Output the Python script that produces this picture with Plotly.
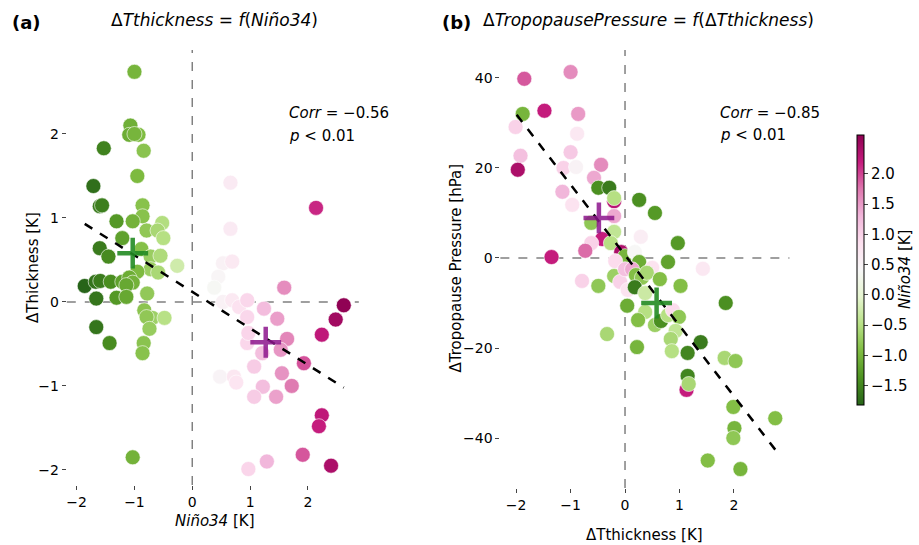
import plotly.graph_objects as go

# ---------------- data ----------------
# Panel (a): Niño34 [K] vs ΔThickness [K]
nino_a = [-1.0, -1.07, -1.09, -0.93, -1.0, -0.84, -1.53, -0.95, -1.71, -1.60, -1.56, -0.86, -0.86,
          -1.31, -1.03, -0.52, -0.79, -0.60, -0.50, -1.21, -1.60, -1.45, -0.88, -0.72, -0.55, -0.26,
          -0.72, -0.59, -0.95, -1.86, -1.67, -1.59, -1.41, -1.21, -1.09, -1.03, -1.14, -1.66, -1.31,
          -1.14, -0.78, -0.83, -0.69, -0.79, -0.48, -0.74, -1.66, -1.43, -0.84, -0.86, -1.03,
          0.66, 0.66, 0.53, 0.69, 0.45, 0.38, 0.53, 0.69, 0.81, 0.95, 2.14, 1.59, 2.62, 2.48, 2.24,
          1.64, 1.47, 1.24, 0.95, 0.95, 1.21, 1.53, 1.93, 1.07, 1.55, 1.72, 0.48, 0.72, 0.76, 1.22,
          1.07, 1.45, 2.24, 2.19, 1.91, 1.29, 0.97, 2.40, 0.97]
thick_a = [2.74, 2.10, 1.99, 1.99, 2.00, 1.80, 1.83, 1.50, 1.38, 1.14, 1.15, 1.15, 1.02,
           0.96, 0.96, 0.94, 0.85, 0.85, 0.76, 0.76, 0.64, 0.54, 0.63, 0.54, 0.55, 0.43,
           0.39, 0.35, 0.36, 0.19, 0.24, 0.25, 0.24, 0.24, 0.29, 0.23, 0.20, 0.04, 0.05,
           0.06, 0.10, -0.10, -0.19, -0.18, -0.19, -0.32, -0.30, -0.49, -0.49, -0.61, -1.85,
           1.42, 0.87, 0.46, 0.48, 0.30, 0.17, 0.00, 0.02, -0.06, 0.02, 1.12, 0.17, -0.04, -0.21, -0.39,
           -0.44, -0.20, -0.08, -0.18, -0.49, -0.61, -0.57, -0.73, -0.77, -0.85, -1.00, -0.89, -0.89, -0.96, -1.01,
           -1.13, -1.13, -1.35, -1.48, -1.82, -1.90, -1.99, -1.95, -0.37]

# Panel (b): ΔThickness [K] vs ΔTropopause Pressure [hPa], coloured by Niño34 [K]
thick_b = [-1.85, -1.0, -1.88, -1.48, -0.86, -2.01, -0.88, -1.92, -1.0, -1.97, -1.13, -0.9, -0.44,
           -0.57, -1.15, -0.49, -0.29, -0.2, -0.2, -0.97, 0.26, 0.55, -0.62, -0.2, -0.2, 0.29, 0.97,
           -0.42, -0.62, -0.26, -0.73, -1.35, -0.07, 0.0, 0.18, 0.26, 0.79, 1.43, -0.18, 0.5,
           -0.79, -0.49, -0.2, -0.09, 0.05, 0.0, 0.13, 0.2, 0.31, 0.4, 0.64, 1.02, 0.18, 0.37,
           0.04, 1.85, 0.37, 0.24, 0.55, 0.66, 0.79, 0.88, 0.99, 0.93, 0.84, 0.86, -0.33, 0.22,
           1.15, 1.39, 1.83, 2.03, 1.15, 1.13, 1.17, 1.99, 2.76, 2.01, 1.99, 1.52, 2.12]
tp_b = [39.8, 41.3, 32.0, 32.7, 32.0, 29.1, 27.6, 22.7, 23.5, 19.6, 20.0, 20.2, 20.7,
        17.8, 14.7, 15.6, 15.6, 12.6, 13.3, 11.8, 12.9, 10.0, 7.8, 9.3, 5.8, 4.7, 3.3,
        4.2, 3.3, 3.3, 1.6, 0.2, 1.3, 0.4, 1.3, -0.9, -0.9, -2.4, -0.7, -2.2,
        -5.1, -6.2, -4.0, -5.3, -7.1, -2.5, -2.5, -3.8, -4.4, -3.3, -4.7, -6.2, -6.5, -7.8,
        -10.6, -10.0, -12.0, -13.8, -14.9, -14.0, -12.7, -11.6, -13.1, -16.2, -18.0, -20.7, -16.9, -19.8,
        -21.1, -18.7, -22.2, -22.9, -26.2, -29.3, -28.0, -33.1, -35.6, -37.8, -40.0, -45.0, -46.9]
nino_b = [1.9, 1.6, -1.0, 2.2, 1.5, 1.0, 0.7, 1.2, 1.1, 2.4, 1.0, 0.5, 1.6,
          1.4, 1.3, -1.4, -1.6, 2.3, -0.5, 0.8, -1.4, -1.3, -0.8, 1.4, -0.4, 0.6, -1.3,
          2.2, 1.0, -0.5, 1.8, 2.2, 2.4, -1.0, 0.4, -1.1, -1.2, 0.7, 0.9, 0.8,
          1.0, -0.8, -0.7, 1.0, 0.8, 1.2, 1.4, -0.9, -0.8, -0.6, -0.9, -0.9, -1.6, -0.3,
          -1.1, -1.4, -0.5, -0.9, -0.7, -1.4, -0.5, 0.9, -0.8, -0.4, -0.6, -0.5, -0.6, -1.0,
          -1.5, -1.6, -0.6, -0.8, -1.5, 2.2, -0.6, -0.9, -0.9, -1.0, -0.8, -0.9, -1.0]

# Regression line end points
fit_a_x = [-1.86, 2.62]
fit_a_y = [0.93, -1.02]
fit_b_x = [-1.99, 2.78]
fit_b_y = [31.8, -42.9]

# Composite means (La Niña, El Niño)
mean_a_x = [-1.03, 1.27]
mean_a_y = [0.58, -0.48]
mean_b_x = [0.58, -0.48]
mean_b_y = [-10.0, 8.9]
mean_colors = ["rgba(34,139,34,0.9)", "rgba(140,20,140,0.85)"]

cbar_ticks = [-1.5, -1.0, -0.5, 0.0, 0.5, 1.0, 1.5, 2.0]
cmin, cmax = -1.82, 2.64

piyg_r = ["#276419", "#4d9221", "#7fbc41", "#b8e186", "#e6f5d0", "#f7f7f7",
          "#fde0ef", "#f1b6da", "#de77ae", "#c51b7d", "#8e0152"]
colorscale = [[i / 10, c] for i, c in enumerate(piyg_r)]

FONT = "DejaVu Sans"
W, H = 919, 545

def px_x(p):
    return p / W

def px_y(p):
    return 1 - p / H

fig = go.Figure()

fig.add_trace(go.Scatter(x=nino_a, y=thick_a, mode="markers",
                         marker=dict(size=15, color=nino_a, coloraxis="coloraxis",
                                     line=dict(width=0.6, color="white")),
                         xaxis="x", yaxis="y", showlegend=False))
fig.add_trace(go.Scatter(x=thick_b, y=tp_b, mode="markers",
                         marker=dict(size=15, color=nino_b, coloraxis="coloraxis",
                                     line=dict(width=0.6, color="white")),
                         xaxis="x2", yaxis="y2", showlegend=False))

# regression lines
fig.add_trace(go.Scatter(x=fit_a_x, y=fit_a_y, mode="lines",
                         line=dict(color="black", width=2.5, dash="dash"),
                         xaxis="x", yaxis="y", showlegend=False))
fig.add_trace(go.Scatter(x=fit_b_x, y=fit_b_y, mode="lines",
                         line=dict(color="black", width=2.5, dash="dash"),
                         xaxis="x2", yaxis="y2", showlegend=False))

# mean markers
for i in range(2):
    fig.add_trace(go.Scatter(x=[mean_a_x[i]], y=[mean_a_y[i]], mode="markers",
                             marker=dict(symbol="cross-thin", size=22,
                                         line=dict(width=4.5, color=mean_colors[i])),
                             xaxis="x", yaxis="y", showlegend=False))
    fig.add_trace(go.Scatter(x=[mean_b_x[i]], y=[mean_b_y[i]], mode="markers",
                             marker=dict(symbol="cross-thin", size=22,
                                         line=dict(width=4.5, color=mean_colors[i])),
                             xaxis="x2", yaxis="y2", showlegend=False))

axis_common = dict(showgrid=False, zeroline=False, showline=False, ticks="outside",
                   ticklen=4, tickwidth=1, tickcolor="#444",
                   tickfont=dict(family=FONT, size=14, color="black"))

shapes = []
for xr, yr in (("x", "y"), ("x2", "y2")):
    shapes.append(dict(type="line", xref=xr, yref=yr + " domain", x0=0, x1=0, y0=0, y1=1,
                       line=dict(color="gray", width=1.5, dash="dash"), layer="below"))
    shapes.append(dict(type="line", xref=xr + " domain", yref=yr, x0=0, x1=1, y0=0, y1=0,
                       line=dict(color="gray", width=1.5, dash="dash"), layer="below"))

ann = []
def text(x, y, s, size=15, anchor="center", angle=0, yanchor="middle"):
    ann.append(dict(x=px_x(x), y=px_y(y), xref="paper", yref="paper", text=s,
                    showarrow=False, xanchor=anchor, yanchor=yanchor, textangle=angle,
                    font=dict(family=FONT, size=size, color="black")))

text(10, 22, "<b>(a)</b>", size=18, anchor="left")
text(215, 20, "Δ<i>Tthickness</i> = <i>f</i>(<i>Niño34</i>)", size=17)
text(441, 22, "<b>(b)</b>", size=18, anchor="left")
text(483, 20, "Δ<i>TropopausePressure</i> = <i>f</i>(Δ<i>Tthickness</i>)", size=17, anchor="left")

text(288, 113, "<i>Corr</i> = −0.56", size=15, anchor="left")
text(288, 136, "<i>p</i> &lt; 0.01", size=15, anchor="left")
text(720, 113, "<i>Corr</i> = −0.85", size=15, anchor="left")
text(720, 135, "<i>p</i> &lt; 0.01", size=15, anchor="left")

text(215, 521, "<i>Niño34</i> [K]", size=15)
text(647, 535, "ΔTthickness [K]", size=15)
text(33, 267, "ΔThickness [K]", size=15, angle=-90)
text(457, 268, "ΔTropopause Pressure [hPa]", size=15, angle=-90)
text(908, 270, "<i>Niño34</i> [K]", size=15, angle=-90)

fig.update_layout(
    width=W, height=H,
    margin=dict(l=0, r=0, t=0, b=0),
    paper_bgcolor="white", plot_bgcolor="white",
    font=dict(family=FONT, size=14, color="black"),
    xaxis=dict(domain=[px_x(67), px_x(360)], range=[-2.17, 2.88], anchor="y",
               tickvals=[-2, -1, 0, 1, 2], ticktext=["−2", "−1", "0", "1", "2"], **axis_common),
    yaxis=dict(domain=[px_y(485), px_y(50)], range=[-2.18, 3.0], anchor="x",
               tickvals=[-2, -1, 0, 1, 2], ticktext=["−2", "−1", "0", "1", "2"], **axis_common),
    xaxis2=dict(domain=[px_x(502), px_x(792)], range=[-2.29, 3.02], anchor="y2",
                tickvals=[-2, -1, 0, 1, 2], ticktext=["−2", "−1", "0", "1", "2"], **axis_common),
    yaxis2=dict(domain=[px_y(488), px_y(50)], range=[-51.1, 46.2], anchor="x2",
                tickvals=[-40, -20, 0, 20, 40], ticktext=["−40", "−20", "0", "20", "40"], **axis_common),
    coloraxis=dict(colorscale=colorscale, cmin=cmin, cmax=cmax,
                   colorbar=dict(x=px_x(850), xanchor="left", y=px_y(270), yanchor="middle",
                                 len=290 / H, lenmode="fraction", thickness=7,
                                 outlinewidth=1, outlinecolor="black",
                                 tickvals=cbar_ticks,
                                 ticktext=[("−" if v < 0 else "") + f"{abs(v):.1f}" for v in cbar_ticks],
                                 ticks="outside", ticklen=4, tickcolor="#444",
                                 tickfont=dict(family=FONT, size=15, color="black"))),
    shapes=shapes,
    annotations=ann,
)

fig.write_html("out.html")
